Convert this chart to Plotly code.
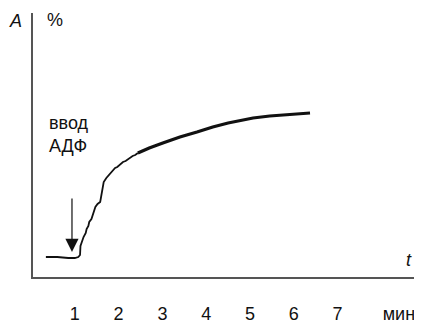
import plotly.graph_objects as go

# time (min) and signal (arbitrary % units)
t_early = [0.34, 0.60, 0.85, 1.00, 1.08, 1.12, 1.13, 1.17, 1.20, 1.25, 1.27, 1.31, 1.33, 1.38, 1.40, 1.44, 1.47, 1.52, 1.58, 1.60, 1.63, 1.66, 1.72, 1.76, 1.80, 1.86, 1.92, 1.97, 2.03, 2.10, 2.16, 2.22, 2.26, 2.32, 2.38, 2.44]
v_early = [20, 20, 19, 19, 20, 22, 31, 37, 40, 44, 48, 51, 55, 58, 61, 66, 70, 73, 75, 80, 90, 95, 99, 101, 104, 106, 109, 110, 112, 115, 116, 118, 119, 121, 122, 124]
t_late = [2.44, 2.70, 3.01, 3.40, 3.79, 4.15, 4.50, 4.80, 5.07, 5.45, 5.84, 6.10, 6.37]
v_late = [124, 129, 134, 140, 145, 150, 154, 157, 159, 161, 162, 163, 164]

tick_vals = [1, 2, 3, 4, 5, 6, 7, 8.4]
tick_text = ["1", "2", "3", "4", "5", "6", "7", "мин"]

fig = go.Figure()
fig.add_trace(go.Scatter(x=t_early, y=v_early, mode="lines",
                         line=dict(color="#111", width=1.8), hoverinfo="skip"))
fig.add_trace(go.Scatter(x=t_late, y=v_late, mode="lines",
                         line=dict(color="#111", width=3.2), hoverinfo="skip"))

font = dict(family="Liberation Sans, Arial, sans-serif", size=18, color="#111")

# the page body has an 8px default margin, so the figure is sized 8px smaller
fig.update_layout(
    width=414, height=317,
    margin=dict(l=25, r=7, t=5, b=48, autoexpand=False),
    paper_bgcolor="white", plot_bgcolor="white",
    showlegend=False,
    font=font,
    xaxis=dict(range=[0.046, 8.767], showgrid=False, zeroline=False,
               showline=True, linecolor="#555", linewidth=2,
               tickvals=tick_vals, ticktext=tick_text, ticks="",
               ticklabelstandoff=19, tickfont=font, fixedrange=True,
               automargin=False),
    yaxis=dict(range=[0, 264], showgrid=False, zeroline=False,
               showline=True, linecolor="#555", linewidth=2,
               showticklabels=False, ticks="", fixedrange=True,
               automargin=False),
)

fig.add_annotation(x=0.936, y=25, ax=0, ay=-55, xref="x", yref="y",
                   showarrow=True, arrowhead=2, arrowsize=2.2, arrowwidth=1.2,
                   arrowcolor="#111", text="")

fig.add_annotation(x=0.36, y=143, xref="x", yref="y", text="ввод<br>АДФ",
                   showarrow=False, xanchor="left", yanchor="middle", align="left",
                   font=font)
fig.add_annotation(x=-0.047, y=0.97, xref="paper", yref="paper", text="<i>A</i>",
                   showarrow=False, xanchor="center", yanchor="middle", font=font)
fig.add_annotation(x=0.33, y=257, xref="x", yref="y", text="%",
                   showarrow=False, xanchor="left", yanchor="middle", font=font)
fig.add_annotation(x=8.64, y=17, xref="x", yref="y", text="<i>t</i>",
                   showarrow=False, xanchor="center", yanchor="middle", font=font)

fig.write_html("out.html")
